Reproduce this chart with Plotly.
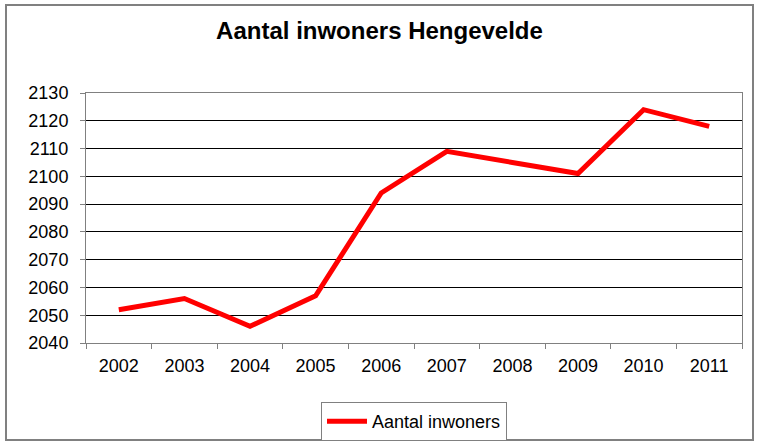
import plotly.graph_objects as go

years = ["2002", "2003", "2004", "2005", "2006", "2007", "2008", "2009", "2010", "2011"]
inwoners = [2052, 2056, 2046, 2057, 2094, 2109, 2105, 2101, 2124, 2118]
series_name = "Aantal inwoners"
title_text = "Aantal inwoners Hengevelde"

L, R, T, B = 86, 17, 93, 104
W, H = 759, 447
pw, ph = W - L - R, H - T - B

fig = go.Figure()
fig.add_trace(go.Scatter(x=years, y=inwoners, mode="lines", name=series_name,
                         line=dict(color="#ff0000", width=5)))

def px_x(p):
    return (p - L) / pw

def px_y(p):
    return (H - B - p) / ph

fig.add_shape(type="rect", xref="paper", yref="paper",
              x0=px_x(6), x1=px_x(753), y0=px_y(440), y1=px_y(5),
              line=dict(color="#808080", width=2), fillcolor="rgba(0,0,0,0)", layer="below")

fig.update_layout(
    width=W, height=H,
    margin=dict(l=L, r=R, t=T, b=B, autoexpand=False),
    paper_bgcolor="white", plot_bgcolor="white",
    font=dict(family="Liberation Sans, Arial, sans-serif", size=18, color="black"),
    title=dict(text="<b>" + title_text + "</b>", x=0.5, xanchor="center",
               y=1 - 31 / H, yanchor="middle", font=dict(size=24, color="black")),
    showlegend=True,
    legend=dict(orientation="h", x=0.5, xanchor="center", y=px_y(402), yanchor="top",
                bordercolor="#808080", borderwidth=1, bgcolor="white",
                font=dict(size=18), itemwidth=40),
    xaxis=dict(type="category", range=[-0.5, len(years) - 0.5], tickson="boundaries",
               ticks="outside", ticklen=5, ticklabelstandoff=6,
               tickcolor="#808080", showline=True, linecolor="#808080", linewidth=1,
               mirror=True, showgrid=False, tickfont=dict(size=18)),
    yaxis=dict(range=[2040, 2130], dtick=10, ticks="outside", ticklen=5, ticklabelstandoff=8,
               tickcolor="#808080", showline=True, linecolor="#808080", linewidth=1,
               mirror=True, showgrid=True, gridcolor="black", gridwidth=1,
               zeroline=False, tickfont=dict(size=18)),
)

fig.write_html("out.html")
